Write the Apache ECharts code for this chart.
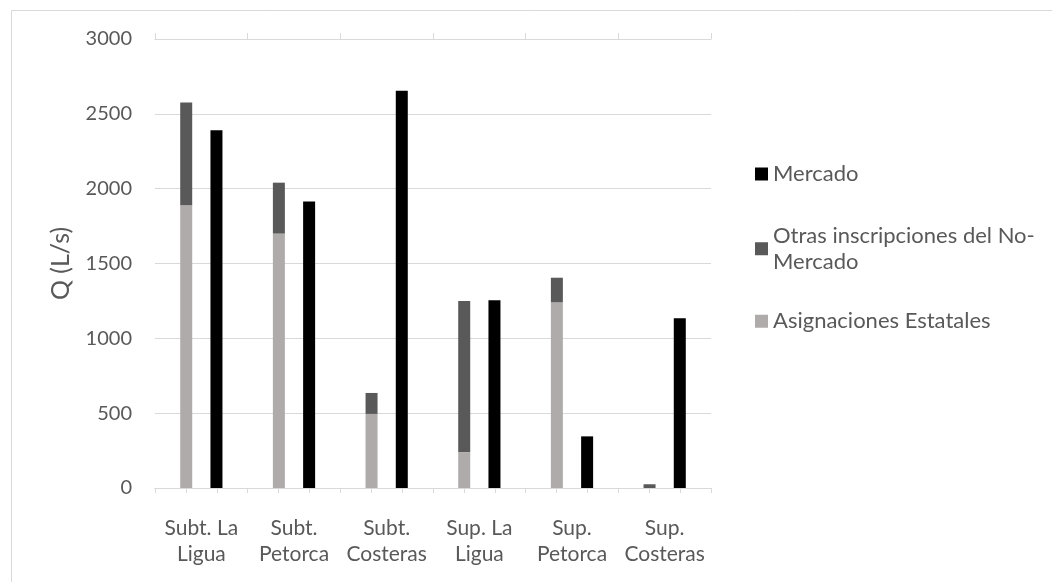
<!DOCTYPE html>
<html>
<head>
<meta charset="utf-8">
<script src="https://cdn.jsdelivr.net/npm/echarts@6/dist/echarts.min.js"></script>
<style>
  html, body { margin: 0; padding: 0; background: #ffffff; }
  #chart { width: 1052px; height: 582px; }
</style>
</head>
<body>
<div id="chart"></div>
<script>
// Caudales por fuente (L/s)
const categories = [
  'Subt. La\nLigua', 'Subt.\nPetorca', 'Subt.\nCosteras',
  'Sup. La\nLigua', 'Sup.\nPetorca', 'Sup.\nCosteras'
];
const asignaciones = [1890, 1700, 495, 240, 1240, 0];
const otrasInscripciones = [685, 340, 140, 1010, 165, 25];
const mercado = [2390, 1915, 2655, 1255, 345, 1135];
const yTicks = { min: 0, max: 3000, interval: 500 };

const NAME_MERCADO = 'Mercado';
const NAME_OTRAS = 'Otras inscripciones del No-Mercado';
const NAME_ASIG = 'Asignaciones Estatales';

const FONT = 'Lato';
const TEXT = '#595959';
const GRID = '#d9d9d9';

// Sub-divisions of each category (three per group) for the minor ticks
const subTicks = [];
categories.forEach((c, i) => { for (let k = 0; k < 3; k++) subTicks.push(i + '-' + k); });

const chart = echarts.init(document.getElementById('chart'), null, { renderer: 'canvas' });

const LEGEND_LH = 26.5;
const legendText = { fontFamily: FONT, fontSize: 22, color: TEXT, lineHeight: LEGEND_LH };
const legendBase = {
  orient: 'vertical', left: 755, padding: 0, itemWidth: 13, itemHeight: 13,
  itemGap: 0, icon: 'rect', selectedMode: false, textStyle: legendText
};

chart.setOption({
  animation: false,
  backgroundColor: '#ffffff',
  graphic: [{
    type: 'rect',
    shape: { x: 11.5, y: 10.5, width: 1200, height: 800 },
    style: { fill: 'none', stroke: GRID, lineWidth: 1 },
    silent: true
  }],
  grid: { left: 155, right: 341, top: 39, bottom: 94, containLabel: false },
  legend: [
    Object.assign({}, legendBase, { top: 160.75, data: [NAME_MERCADO] }),
    Object.assign({}, legendBase, {
      top: 209, data: [NAME_OTRAS],
      formatter: () => 'Otras inscripciones del No-\nMercado',
      textStyle: Object.assign({}, legendText, { padding: [LEGEND_LH, 0, 0, 0] })
    }),
    Object.assign({}, legendBase, { top: 308, data: [NAME_ASIG] })
  ],
  xAxis: [
    {
      type: 'category', data: categories, position: 'bottom',
      axisLine: { show: true, lineStyle: { color: GRID, width: 1 } },
      axisTick: { show: true, length: 5, lineStyle: { color: GRID } },
      axisLabel: {
        fontFamily: FONT, fontSize: 21, color: TEXT, lineHeight: 26,
        margin: 27, interval: 0
      },
      splitLine: { show: false }
    },
    {
      type: 'category', data: subTicks, position: 'bottom', gridIndex: 0,
      axisLine: { show: true, lineStyle: { color: GRID, width: 1 } },
      axisTick: { show: true, length: 5, interval: 0, lineStyle: { color: GRID } },
      axisLabel: { show: false },
      splitLine: { show: false }
    },
    {
      type: 'category', data: categories, position: 'top',
      axisLine: { show: true, lineStyle: { color: GRID, width: 1 } },
      axisTick: { show: true, length: 6, lineStyle: { color: GRID } },
      axisLabel: { show: false },
      splitLine: { show: false }
    }
  ],
  yAxis: {
    type: 'value', min: yTicks.min, max: yTicks.max, interval: yTicks.interval,
    name: 'Q (L/s)', nameLocation: 'middle', nameGap: 82,
    nameTextStyle: { fontFamily: FONT, fontSize: 25, color: TEXT },
    axisLine: { show: false }, axisTick: { show: false },
    axisLabel: {
      fontFamily: FONT, fontSize: 20, color: TEXT, margin: 23,
      formatter: (v) => String(v)
    },
    splitLine: { show: true, lineStyle: { color: GRID, width: 1 } }
  },
  series: [
    {
      name: NAME_ASIG, type: 'bar', stack: 'noMercado', xAxisIndex: 0,
      data: asignaciones, barWidth: 12, barGap: '152%',
      itemStyle: { color: '#afabab' }
    },
    {
      name: NAME_OTRAS, type: 'bar', stack: 'noMercado', xAxisIndex: 0,
      data: otrasInscripciones, barWidth: 12,
      itemStyle: { color: '#595959' }
    },
    {
      name: NAME_MERCADO, type: 'bar', xAxisIndex: 0,
      data: mercado, barWidth: 12,
      itemStyle: { color: '#000000' }
    }
  ]
});
</script>
</body>
</html>
